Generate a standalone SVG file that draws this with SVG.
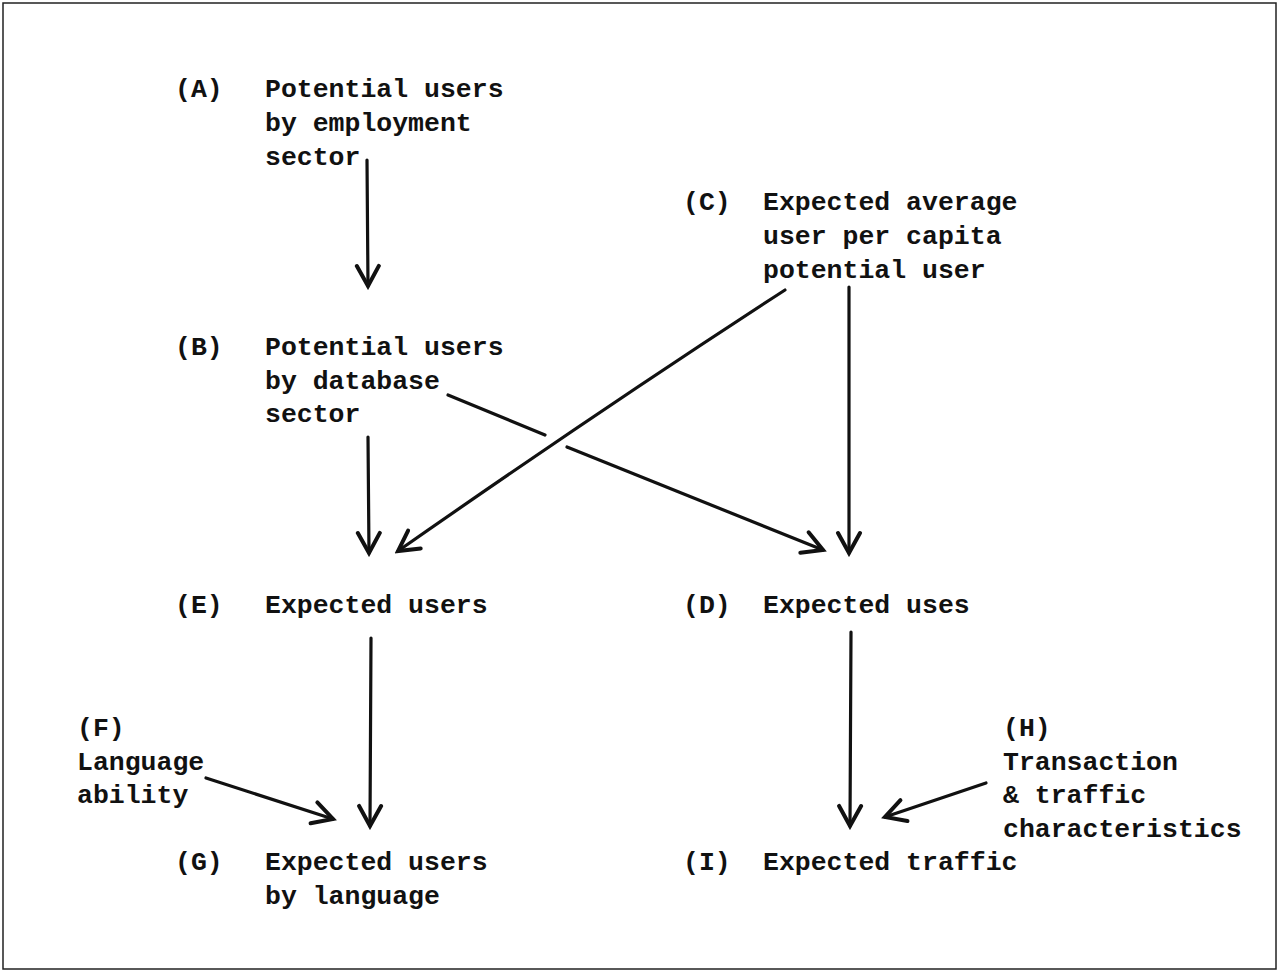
<svg xmlns="http://www.w3.org/2000/svg" width="1279" height="972" viewBox="0 0 1279 972">
<style>
text{font-family:"Liberation Mono","DejaVu Sans Mono",monospace;font-size:26.5px;font-weight:bold;fill:#111;}
.c{fill:none;stroke:#111;stroke-width:3.2;stroke-linecap:round;}
</style>
<defs>
<marker id="ah" markerUnits="userSpaceOnUse" viewBox="-24 -14 28 28" refX="0" refY="0" markerWidth="28" markerHeight="28" orient="auto">
<path d="M-20,-11 L0,0 L-20,11" fill="none" stroke="#111" stroke-width="4" stroke-linejoin="miter" stroke-linecap="round"/>
</marker>
</defs>
<rect x="0" y="0" width="1279" height="972" fill="#fff"/>
<rect x="3" y="3" width="1273" height="966" fill="none" stroke="#222" stroke-width="1.5"/>
<g id="nodeA"><text x="175" y="97">(A)</text><text x="265" y="97">Potential users</text><text x="265" y="131">by employment</text><text x="265" y="165">sector</text></g>
<g id="nodeB"><text x="175" y="355">(B)</text><text x="265" y="355">Potential users</text><text x="265" y="389">by database</text><text x="265" y="422">sector</text></g>
<g id="nodeC"><text x="683" y="210">(C)</text><text x="763" y="210">Expected average</text><text x="763" y="244">user per capita</text><text x="763" y="278">potential user</text></g>
<g id="nodeE"><text x="175" y="613">(E)</text><text x="265" y="613">Expected users</text></g>
<g id="nodeD"><text x="683" y="613">(D)</text><text x="763" y="613">Expected uses</text></g>
<g id="nodeF"><text x="77" y="736">(F)</text><text x="77" y="770">Language</text><text x="77" y="803">ability</text></g>
<g id="nodeH"><text x="1003" y="736">(H)</text><text x="1003" y="770">Transaction</text><text x="1003" y="803">&amp; traffic</text><text x="1003" y="837">characteristics</text></g>
<g id="nodeG"><text x="175" y="870">(G)</text><text x="265" y="870">Expected users</text><text x="265" y="904">by language</text></g>
<g id="nodeI"><text x="683" y="870">(I)</text><text x="763" y="870">Expected traffic</text></g>
<g id="connectors">
<path class="c" d="M367,160 L368,286" marker-end="url(#ah)"/>
<path class="c" d="M368,437 L369,553" marker-end="url(#ah)"/>
<path class="c" d="M785,290 Q600,410 398,551" marker-end="url(#ah)"/>
<path class="c" d="M448,395 L545,435"/>
<path class="c" d="M567,447 Q700,500 823,550" marker-end="url(#ah)"/>
<path class="c" d="M849,287 L849,553" marker-end="url(#ah)"/>
<path class="c" d="M371,638 L370,826" marker-end="url(#ah)"/>
<path class="c" d="M206,778 L333,819" marker-end="url(#ah)"/>
<path class="c" d="M851,632 L850,826" marker-end="url(#ah)"/>
<path class="c" d="M986,783 L885,817" marker-end="url(#ah)"/>
</g>
</svg>
